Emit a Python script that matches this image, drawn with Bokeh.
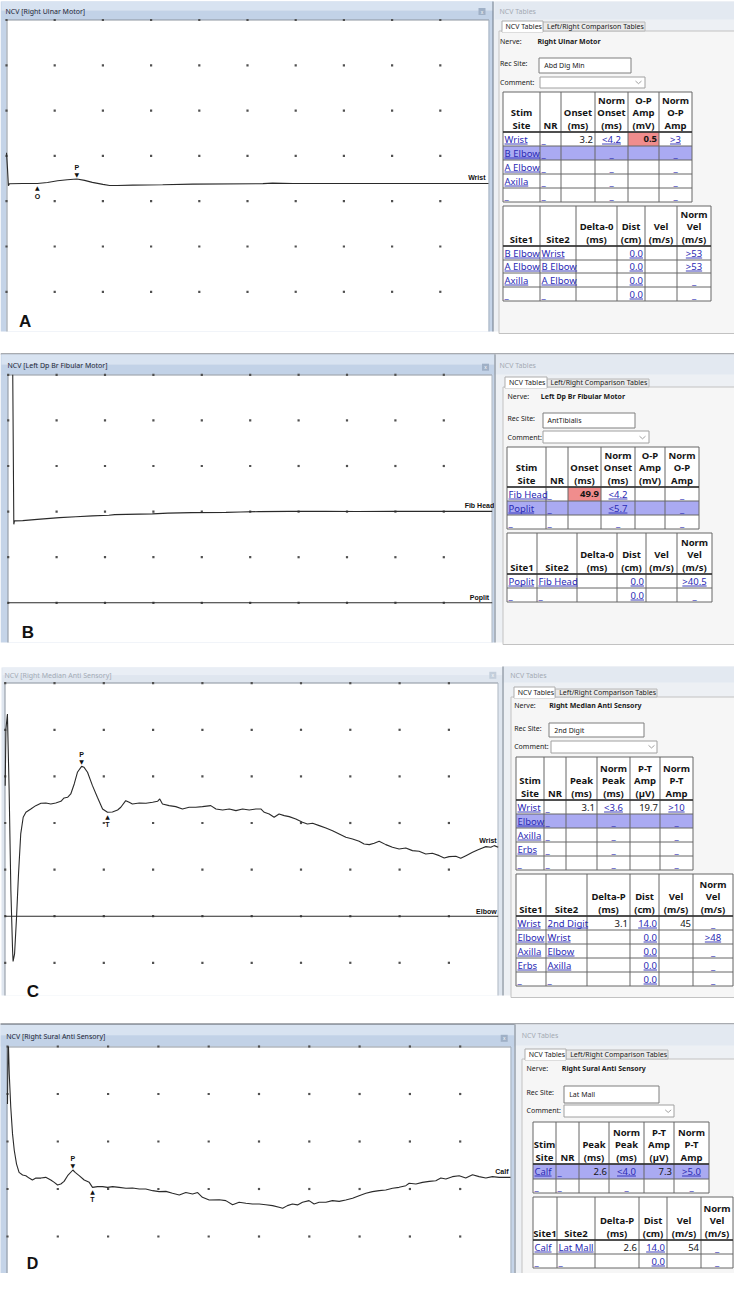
import numpy as np
from bokeh.plotting import figure
from bokeh.models import Range1d
from bokeh.core.properties import value
from bokeh.embed import file_html
from bokeh.resources import INLINE

# ===================== DATA =====================
# ---- A : Right Ulnar Motor (time ms, amplitude mV) ----
A_title = "NCV [Right Ulnar Motor]"
A_nerve = "Right Ulnar Motor"
A_rec_site = "Abd Dig Min"
A_wrist_t = [0.0, 0.1, 0.2, 0.3, 1.7, 3.2, 4.25, 5.3, 6.3, 7.3, 8.1, 8.9, 10.0, 10.7,
             11.5, 13.1, 16.2, 19.3, 26.6, 27.6, 29.7, 50.0]
A_wrist_v = [3.4, 1.7, -0.25, -0.03, 0.0, 0.0, 0.11, 0.30, 0.42, 0.5, 0.35, 0.13, -0.09, -0.22,
             -0.22, -0.18, -0.14, -0.07, -0.01, 0.04, 0.0, 0.0]
A_onset_ms = 3.2
A_peak_ms = 7.3
A_stim_header = ["Stim\nSite", "NR", "Onset\n(ms)", "Norm\nOnset\n(ms)", "O-P\nAmp\n(mV)", "Norm\nO-P\nAmp"]
A_stim_rows = [["Wrist", "_", "3.2", "<4.2", "0.5", ">3"],
               ["B Elbow", "_", "", "_", "", "_"],
               ["A Elbow", "_", "", "_", "", "_"],
               ["Axilla", "_", "", "_", "", "_"],
               ["_", "_", "", "_", "", "_"]]
A_seg_header = ["Site1", "Site2", "Delta-0\n(ms)", "Dist\n(cm)", "Vel\n(m/s)", "Norm\nVel\n(m/s)"]
A_seg_rows = [["B Elbow", "Wrist", "", "0.0", "", ">53"],
              ["A Elbow", "B Elbow", "", "0.0", "", ">53"],
              ["Axilla", "A Elbow", "", "0.0", "", "_"],
              ["_", "_", "", "0.0", "", "_"]]

# ---- B : Left Dp Br Fibular Motor (ms, mV) ----
B_title = "NCV [Left Dp Br Fibular Motor]"
B_nerve = "Left Dp Br Fibular Motor"
B_rec_site = "AntTibialis"
B_fib_t = [0.47, 0.58, 0.65, 1.5, 3.0, 5.3, 7.0, 8.7, 10.4, 11.0, 12.2, 14.9, 16.5, 19.0,
           22.5, 24.0, 25.9, 29.0, 32.8, 36.0, 39.7, 44.0, 50.0]
B_fib_v = [15.0, -1.39, -1.02, -0.99, -0.85, -0.66, -0.56, -0.47, -0.40, -0.33, -0.30, -0.25,
           -0.17, -0.11, -0.09, -0.04, 0.0, 0.02, 0.03, 0.01, 0.03, 0.02, 0.03]
B_poplit_t = [0.0, 50.0]
B_poplit_v = [0.0, 0.0]
B_stim_header = ["Stim\nSite", "NR", "Onset\n(ms)", "Norm\nOnset\n(ms)", "O-P\nAmp\n(mV)", "Norm\nO-P\nAmp"]
B_stim_rows = [["Fib Head", "_", "49.9", "<4.2", "", "_"],
               ["Poplit", "_", "", "<5.7", "", "_"],
               ["_", "_", "", "_", "", "_"]]
B_seg_header = ["Site1", "Site2", "Delta-0\n(ms)", "Dist\n(cm)", "Vel\n(m/s)", "Norm\nVel\n(m/s)"]
B_seg_rows = [["Poplit", "Fib Head", "", "0.0", "", ">40.5"],
              ["_", "_", "", "0.0", "", "_"]]

# ---- C : Right Median Anti Sensory (ms, uV) ----
C_title = "NCV [Right Median Anti Sensory]"
C_nerve = "Right Median Anti Sensory"
C_rec_site = "2nd Digit"
C_wrist_t = [0.0, 0.03, 0.09, 0.16, 0.23, 0.30, 0.32, 0.38, 0.46, 0.54, 0.63, 0.73, 0.84, 1.04,
             1.24, 1.45, 1.65, 1.85, 2.05, 2.26, 2.39, 2.53, 2.66, 2.80, 2.93, 3.1, 3.20, 3.34,
             3.54, 3.74, 3.95, 4.15, 4.35, 4.56, 4.69, 4.89, 5.03, 5.16, 5.44, 5.71, 5.98, 6.18,
             6.27, 6.38, 6.65, 6.92, 7.19, 7.46, 7.73, 8.0, 8.34, 8.55, 8.82, 9.09, 9.36, 9.63,
             9.90, 10.17, 10.37, 10.51, 10.71, 10.91, 11.11, 11.32, 11.52, 11.79, 12.06, 12.26,
             12.47, 12.74, 13.01, 13.28, 13.55, 13.82, 14.09, 14.36, 14.56, 14.77, 14.97, 15.17,
             15.44, 15.71, 15.98, 16.25, 16.52, 16.79, 17.06, 17.33, 17.61, 17.81, 18.01, 18.28,
             18.48, 18.69, 18.96, 19.16, 19.36, 19.50, 19.70, 19.84, 20.0]
C_wrist_v = [16.0, 40.4, 46.8, 13.9, -29.0, -54.8, -59.4, -56.2, -40.5, -21.9, -4.7, 2.45, 4.6,
             6.0, 7.45, 8.46, 8.6, 8.17, 8.6, 9.31, 10.74, 11.03, 12.46, 16.75, 21.76, 24.3, 23.9,
             21.76, 16.04, 11.03, 6.0, 4.6, 4.75, 5.6, 6.74, 9.6, 8.89, 8.17, 8.6, 8.46, 8.89,
             9.31, 10.32, 8.17, 7.45, 7.02, 6.02, 6.74, 6.74, 7.02, 7.45, 6.02, 5.59, 6.02, 5.31,
             6.02, 5.59, 6.02, 6.02, 4.6, 3.88, 2.45, 3.88, 3.16, 2.73, 1.73, 0.3, -0.41, -0.13,
             -1.13, -2.13, -3.28, -4.71, -6.14, -6.85, -7.85, -9.0, -9.28, -8.71, -7.85, -9.28,
             -10.43, -11.14, -10.71, -11.86, -12.15, -13.29, -13.01, -14.01, -15.01, -14.44,
             -14.29, -15.15, -14.01, -12.58, -11.57, -10.71, -10.14, -10.43, -9.71, -10.43]
C_elbow_t = [0.0, 20.0]
C_elbow_v = [0.0, 0.0]
C_peak_ms = 3.1
C_trough_ms = 4.15
C_stim_header = ["Stim\nSite", "NR", "Peak\n(ms)", "Norm\nPeak\n(ms)", "P-T\nAmp\n(µV)", "Norm\nP-T\nAmp"]
C_stim_rows = [["Wrist", "_", "3.1", "<3.6", "19.7", ">10"],
               ["Elbow", "_", "", "_", "", "_"],
               ["Axilla", "_", "", "_", "", "_"],
               ["Erbs", "_", "", "_", "", "_"],
               ["_", "_", "", "_", "", "_"]]
C_seg_header = ["Site1", "Site2", "Delta-P\n(ms)", "Dist\n(cm)", "Vel\n(m/s)", "Norm\nVel\n(m/s)"]
C_seg_rows = [["Wrist", "2nd Digit", "3.1", "14.0", "45", "_"],
              ["Elbow", "Wrist", "", "0.0", "", ">48"],
              ["Axilla", "Elbow", "", "0.0", "", "_"],
              ["Erbs", "Axilla", "", "0.0", "", "_"],
              ["_", "_", "", "0.0", "", "_"]]

# ---- D : Right Sural Anti Sensory (ms, uV) ----
D_title = "NCV [Right Sural Anti Sensory]"
D_nerve = "Right Sural Anti Sensory"
D_rec_site = "Lat Mall"
D_calf_t = [0.0, 0.02, 0.04, 0.07, 0.13, 0.20, 0.27, 0.36, 0.46, 0.60, 0.73, 0.86, 0.99, 1.13,
            1.33, 1.52, 1.72, 1.86, 1.99, 2.12, 2.25, 2.39, 2.6, 2.69, 2.85, 3.05, 3.25, 3.38,
            3.58, 3.78, 3.98, 4.18, 4.44, 4.71, 4.97, 5.24, 5.50, 5.77, 6.03, 6.30, 6.56, 6.83,
            7.09, 7.36, 7.56, 7.75, 8.02, 8.42, 8.68, 8.95, 9.21, 9.48, 9.74, 10.01, 10.27,
            10.54, 10.80, 10.94, 11.13, 11.33, 11.53, 11.73, 11.99, 12.19, 12.39, 12.66, 12.92,
            13.19, 13.45, 13.72, 13.98, 14.25, 14.51, 14.78, 15.04, 15.31, 15.57, 15.84, 15.97,
            16.24, 16.50, 16.77, 17.03, 17.23, 17.43, 17.69, 17.96, 18.22, 18.49, 18.75, 19.02,
            19.28, 19.55, 20.0]
D_calf_v = [35.8, 60.0, 59.7, 48.4, 34.4, 23.2, 16.2, 10.5, 7.0, 5.9, 5.6, 4.6, 3.8, 4.6, 4.6,
            4.9, 3.8, 2.8, 1.7, 2.1, 3.2, 5.6, 8.0, 7.0, 5.6, 3.8, 2.8, 0.7, 1.0, 1.0, 0.7, 1.0,
            0.7, 0.3, 0.4, 0.0, 0.0, -0.7, -1.1, -1.0, -1.8, -2.5, -1.5, -2.1, -1.5, -3.5, -4.6,
            -4.5, -4.9, -6.6, -5.6, -6.0, -6.3, -6.3, -6.6, -7.0, -7.7, -8.1, -7.0, -6.3, -6.7,
            -5.6, -4.9, -6.3, -5.6, -5.6, -4.9, -5.2, -4.6, -3.9, -2.8, -1.8, -1.1, -0.7, -0.4,
            0.3, 0.7, 1.4, 2.4, 2.1, 2.8, 3.2, 3.5, 4.6, 4.2, 5.2, 5.6, 4.6, 6.0, 5.2, 4.6, 5.2,
            4.9, 4.9]
D_peak_ms = 2.6
D_trough_ms = 3.38
D_stim_header = ["Stim\nSite", "NR", "Peak\n(ms)", "Norm\nPeak\n(ms)", "P-T\nAmp\n(µV)", "Norm\nP-T\nAmp"]
D_stim_rows = [["Calf", "_", "2.6", "<4.0", "7.3", ">5.0"],
               ["_", "_", "", "_", "", "_"]]
D_seg_header = ["Site1", "Site2", "Delta-P\n(ms)", "Dist\n(cm)", "Vel\n(m/s)", "Norm\nVel\n(m/s)"]
D_seg_rows = [["Calf", "Lat Mall", "2.6", "14.0", "54", "_"],
              ["_", "_", "", "0.0", "", "_"]]

# ===================== CANVAS =====================
X0, X1, Y0, Y1 = 8, 742, 8, 1281
p = figure(width=X1 - X0, height=Y1 - Y0, x_range=Range1d(X0, X1), y_range=Range1d(Y1, Y0),
           x_axis_type=None, y_axis_type=None, output_backend="svg", toolbar_location=None,
           min_border=0, outline_line_color=None, background_fill_color="white",
           border_fill_color="white")
if p.title is not None:
    p.title.visible = False

UI = "Noto Sans"
ARIAL = "Liberation Sans"
SYM = "DejaVu Sans"
LINK = "#2a2ab4"

CW = {' ': 260, '_': 460, '<': 572, '>': 572, '.': 268, '/': 372, 'A': 639, 'B': 648, 'C': 632,
      'D': 729, 'E': 556, 'F': 516, 'H': 738, 'L': 527, 'M': 907, 'P': 603, 'W': 925, 'S': 549,
      'a': 561, 'b': 615, 'd': 615, 'e': 564, 'f': 344, 'g': 615, 'h': 618, 'i': 258, 'l': 258,
      'm': 937, 'n': 618, 'o': 605, 'p': 615, 'r': 408, 's': 479, 't': 361, 'x': 528, 'w': 813}


def tw(s, size):
    return sum(CW.get(ch, 572) for ch in s) / 1000.0 * size


def txt(xs, ys, texts, size=7, color="#1b2230", bold=False, align="left", baseline="middle",
        font=UI, xr="default", yr="default", dx=0, dy=0):
    p.text(x=list(xs), y=list(ys), text=list(texts), text_font=value(font),
           text_font_size=f"{size}px", text_color=color,
           text_font_style="bold" if bold else "normal", text_align=align,
           text_baseline=baseline, x_range_name=xr, y_range_name=yr,
           x_offset=dx, y_offset=dy)


def box(x0, x1, y0, y1, fill, line=None, lw=1):
    p.quad(left=[x0], right=[x1], top=[y0], bottom=[y1], fill_color=fill,
           line_color=line, line_width=lw)


def seg(x0, y0, x1, y1, color, w=1):
    p.segment(x0=[x0], y0=[y0], x1=[x1], y1=[y1], line_color=color, line_width=w)


def sn(v):
    return round(v - 0.5) + 0.5


# ---------- left (waveform) window ----------
def left_window(L, title, active=True):
    x0, x1, y0, y1 = L["x0"], L["x1"], L["y0"], L["y1"]
    fx0, fx1, fy0 = L["fx0"], L["fx1"], L["fy0"]
    if active:
        bc, t1, t2, tcol = "#c5d4e8", "#d8e3f1", "#c2d2e7", "#1d2636"
    else:
        bc, t1, t2, tcol = "#dfe6ef", "#e9eef5", "#dfe6ef", "#a3abb6"
    box(x0, x1, y0, y1, bc)
    mid = (y0 + fy0) / 2
    box(x0 + 1, x1, y0, mid, t1)
    box(x0 + 1, x1, mid, fy0, t2)
    box(fx0, fx1, fy0, y1, "white")
    seg(sn(fx0), sn(fy0), sn(fx1), sn(fy0), "#8d959f")
    seg(sn(fx0), sn(fy0), sn(fx0), y1, "#8d959f")
    seg(sn(fx1), sn(fy0), sn(fx1), y1, "#aab4c0")
    txt([L["tx"]], [(y0 + fy0) / 2 + 0.5], [title], size=7, color=tcol)
    cx, cy = L["close"]
    box(cx - 3.5, cx + 3.5, cy - 3.5, cy + 3.5, "#9fb0c6" if active else "#c3cedb")
    txt([cx], [cy], ["x"], size=5, color="white", align="center", font=ARIAL)


def scope(name, L, ms_div, sens):
    fx0, fx1, fy0, dyp, y1 = L["fx0"], L["fx1"], L["fy0"], L["dy"], L["y1"]
    k = ms_div * 10.0 / (fx1 - fx0)
    p.extra_x_ranges[name] = Range1d(start=(X0 - fx0) * k, end=(X1 - fx0) * k)
    s = sens / dyp
    p.extra_y_ranges[name] = Range1d(start=-(Y1 - fy0) * s, end=-(Y0 - fy0) * s)
    nrow = int((y1 - fy0 - 2) // dyp) + 1
    gx = [i * ms_div for i in range(10) for j in range(nrow)]
    gy = [-j * sens for i in range(10) for j in range(nrow)]
    p.scatter(gx, gy, marker="square", size=2.2, fill_color="#505050", line_color=None,
              x_range_name=name, y_range_name=name)


def trace(name, t, v, row, sens, label, ldx, ldy):
    yy = [val - row * sens for val in v]
    p.line(t, yy, line_color="#2a2a2a", line_width=1.1, x_range_name=name, y_range_name=name)
    txt([t[-1]], [yy[-1]], [label], size=7, bold=True, align="right", baseline="middle",
        font=ARIAL, color="#111", xr=name, yr=name, dx=ldx, dy=ldy)


def mark(name, t, v, row, sens, when, letter, above):
    y = float(np.interp(when, t, v)) - row * sens
    if above:
        txt([when], [y], ["▼"], size=6, align="center", baseline="middle", font=SYM,
            color="#111", xr=name, yr=name, dy=-4.5)
        txt([when], [y], [letter], size=7, bold=True, align="center", baseline="middle",
            font=ARIAL, color="#111", xr=name, yr=name, dy=-12)
    else:
        txt([when], [y], ["▲"], size=6, align="center", baseline="middle", font=SYM,
            color="#111", xr=name, yr=name, dy=4)
        txt([when], [y], [letter], size=7, bold=True, align="center", baseline="middle",
            font=ARIAL, color="#111", xr=name, yr=name, dy=12.5)


# ---------- tables window ----------
STIM_ALIGN = ["left", "left", "right", "center", "right", "center"]
STIM_LINK = [True, True, False, True, False, True]
SEG_ALIGN = ["left", "left", "right", "right", "right", "center"]
SEG_LINK = [True, True, False, True, False, True]


def draw_table(cols, top, hdr, rh, header, rows, aligns, links, hl=None, red=None):
    n = len(rows)
    cols = [sn(c) for c in cols]
    top = sn(top)
    ys = [sn(top + hdr + k * rh) for k in range(n + 1)]
    bot = ys[-1]
    box(cols[0], cols[-1], top, bot, "white")
    if hl is not None:
        box(cols[0], cols[-1], ys[hl], ys[hl + 1], "#aaaaf2")
    if red is not None:
        r, c = red
        box(cols[c], cols[c + 1], ys[r], ys[r + 1], "#f08d8d")
    xl, yl = [], []
    for c in cols:
        xl.append([c, c]); yl.append([top, bot])
    for y in [top] + ys:
        xl.append([cols[0], cols[-1]]); yl.append([y, y])
    p.multi_line(xl, yl, line_color="#666666", line_width=1)
    seg(cols[0], ys[0], cols[-1], ys[0], "#2e2e2e", 1.6)
    # header: each line placed separately, bottom-aligned
    hx, hy, ht = [], [], []
    for i, h in enumerate(header):
        lines = h.split("\n")
        m = len(lines)
        for j, ln in enumerate(lines):
            hx.append((cols[i] + cols[i + 1]) / 2)
            hy.append(ys[0] - 6.5 - (m - 1 - j) * 12.6)
            ht.append(ln)
    txt(hx, hy, ht, size=9.5, bold=True, align="center", baseline="middle", color="#151515")
    groups = {}
    ux0, ux1, uy, uc = [], [], [], []
    for r, row in enumerate(rows):
        yc = (ys[r] + ys[r + 1]) / 2 + 0.3
        for c, s in enumerate(row):
            if not s:
                continue
            a = aligns[c]
            if a == "left":
                x = cols[c] + 1.5
            elif a == "right":
                x = cols[c + 1] - 2
            else:
                x = (cols[c] + cols[c + 1]) / 2
            col = LINK if links[c] else "#151515"
            b = red is not None and (r, c) == tuple(red)
            g = groups.setdefault((a, col, b), ([], [], []))
            g[0].append(x); g[1].append(yc); g[2].append(s)
            if links[c] and s != "_":
                w = tw(s, 9.5)
                if a == "left":
                    a0 = x
                elif a == "right":
                    a0 = x - w
                else:
                    a0 = x - w / 2
                ux0.append(a0); ux1.append(a0 + w); uy.append(sn(yc + 4.5)); uc.append(col)
    for (a, col, b), (xs, yv, ts) in groups.items():
        txt(xs, yv, ts, size=9.5, bold=b, align=a, color=col)
    if ux0:
        p.segment(x0=ux0, y0=uy, x1=ux1, y1=uy, line_color=uc, line_width=0.9)


def table_window(R, nerve, rec_site):
    wx, y0, y1 = R["wx"], R["y0"], R["y1"]
    box(wx, X1, y0, y1, "#edf0f4")
    box(wx + 1, X1, y0, R["ty1"], "#e3e9f1")
    seg(sn(wx), y0, sn(wx), y1, "#6f7a88")
    txt([R["title_x"]], [(y0 + R["ty1"]) / 2 + 0.5], ["NCV Tables"], size=7, color="#a3aab3")
    tx, ty0, ty1 = R["tab_x"], R["tab_y0"], R["tab_y1"]
    box(sn(tx - 3), X1 + 2, sn(ty1), y1 + 2, "#f6f6f6", line="#c2c2c2")
    box(sn(tx + 41), sn(tx + 143), sn(ty0 + 1), sn(ty1), "#e9e9e9", line="#b8b8b8")
    box(sn(tx), sn(tx + 41), sn(ty0), sn(ty1) + 1, "white", line="#adadad")
    seg(sn(tx) + 0.5, sn(ty1) + 0.5, sn(tx + 41) - 0.5, sn(ty1) + 0.5, "white", 1.5)
    txt([tx + 3.5, tx + 45], [(ty0 + ty1) / 2 + 0.5] * 2,
        ["NCV Tables", "Left/Right Comparison Tables"], size=7, color="#1a1a1a")
    cx = R["cx"]
    txt([cx], [R["nerve_y"]], ["Nerve:"], size=7, color="#1a1a1a")
    txt([R["name_x"]], [R["nerve_y"]], [nerve], size=7, bold=True, color="#1a1a1a")
    txt([cx], [R["rec_y"]], ["Rec Site:"], size=7, color="#1a1a1a")
    bx = R["box"]
    box(sn(bx[0]), sn(bx[1]), sn(bx[2]), sn(bx[3]), "white", line="#7e7e7e")
    txt([bx[0] + 5], [(bx[2] + bx[3]) / 2], [rec_site], size=7, color="#1a1a1a")
    txt([cx], [R["com_y"]], ["Comment:"], size=7, color="#1a1a1a")
    cb = R["combo"]
    box(sn(cb[0]), sn(cb[1]), sn(cb[2]), sn(cb[3]), "white", line="#a0a0a0")
    mx, my = cb[1] - 6, (cb[2] + cb[3]) / 2
    p.line([mx - 3, mx, mx + 3], [my - 1.3, my + 1.3, my - 1.3], line_color="#8a8a8a", line_width=0.8)


# ===================== LAYOUT =====================
LA = dict(x0=8, x1=501, y0=9, y1=339, fx0=14, fx1=496, fy0=27.5, dy=45.3, tx=13,
          close=(489.5, 19))
RA = dict(wx=501, y0=9, y1=339, ty1=27, title_x=507, tab_x=509.5, tab_y0=28.5, tab_y1=39,
          cx=507.5, nerve_y=48.7, name_x=545, rec_y=70.7, box=(546.7, 638.3, 65.3, 80),
          com_y=90, combo=(547.7, 652, 84, 95.7))
LB = dict(x0=8, x1=502, y0=362, y1=650, fx0=15.7, fx1=499.7, fy0=382.3, dy=45.6, tx=15,
          close=(493, 374.7))
RB = dict(wx=502, y0=362, y1=650, ty1=382, title_x=507, tab_x=513, tab_y0=385, tab_y1=394.5,
          cx=515, nerve_y=403.7, name_x=548.3, rec_y=425.7, box=(550, 642.7, 420.3, 435.7),
          com_y=445, combo=(551, 656, 439, 451))
LC = dict(x0=9, x1=510, y0=675, y1=1003, fx0=12.7, fx1=505.7, fy0=690.7, dy=46.6, tx=12,
          close=(500.3, 682.8))
RC = dict(wx=510, y0=674, y1=1003, ty1=690, title_x=517.7, tab_x=521.7, tab_y0=695,
          tab_y1=704.3, cx=521.7, nerve_y=712.7, name_x=556.7, rec_y=735.7,
          box=(556.7, 651.7, 730.3, 745), com_y=754.3, combo=(558.3, 665, 748.3, 760))
LD = dict(x0=7, x1=522, y0=1032, y1=1281, fx0=15, fx1=518, fy0=1054, dy=47.5, tx=13.7,
          close=(511.7, 1045.8))
RD = dict(wx=522, y0=1032, y1=1281, ty1=1053, title_x=529.3, tab_x=532.7, tab_y0=1056.7,
          tab_y1=1066.7, cx=534, nerve_y=1076, name_x=569.3, rec_y=1100,
          box=(571.7, 666.7, 1093.7, 1110), com_y=1117.7, combo=(571.7, 681.7, 1112.3, 1125))

# ---------------- Panel A ----------------
left_window(LA, A_title, active=True)
scope("a", LA, 5.0, 5.0)
trace("a", A_wrist_t, A_wrist_v, 3.61, 5.0, "Wrist", -3, -6)
mark("a", A_wrist_t, A_wrist_v, 3.61, 5.0, A_onset_ms, "O", above=False)
mark("a", A_wrist_t, A_wrist_v, 3.61, 5.0, A_peak_ms, "P", above=True)
txt([26.5], [328.5], ["A"], size=17, bold=True, font=ARIAL, baseline="alphabetic", color="#111")
table_window(RA, A_nerve, A_rec_site)
draw_table([511, 547.7, 568.3, 602.3, 635.7, 666.7, 699.3], 99.3, 40, 14, A_stim_header,
           A_stim_rows, STIM_ALIGN, STIM_LINK, hl=1, red=(0, 4))
draw_table([511, 547.7, 583.3, 624.3, 652.7, 684.3, 718.3], 213.3, 40, 13.75, A_seg_header,
           A_seg_rows, SEG_ALIGN, SEG_LINK)

# ---------------- Panel B ----------------
seg(8, 361.5, X1, 361.5, "#505761")
left_window(LB, B_title, active=True)
scope("b", LB, 5.0, 5.0)
trace("b", B_fib_t, B_fib_v, 3, 5.0, "Fib Head", 2, -6)
trace("b", B_poplit_t, B_poplit_v, 5, 5.0, "Poplit", -3, -5.5)
txt([29.3], [640], ["B"], size=17, bold=True, font=ARIAL, baseline="alphabetic", color="#111")
table_window(RB, B_nerve, B_rec_site)
draw_table([514.7, 553.3, 575.3, 608.7, 642.7, 672.3, 706.7], 455, 40, 13.9, B_stim_header,
           B_stim_rows, STIM_ALIGN, STIM_LINK, hl=1, red=(0, 2))
draw_table([514.7, 545, 584.3, 625, 653.3, 685, 719.3], 541, 40.7, 14.3, B_seg_header,
           B_seg_rows, SEG_ALIGN, SEG_LINK)

# ---------------- Panel C ----------------
left_window(LC, C_title, active=False)
scope("c", LC, 2.0, 20.0)
trace("c", C_wrist_t, C_wrist_v, 3, 20.0, "Wrist", -1.5, -6.5)
trace("c", C_elbow_t, C_elbow_v, 5, 20.0, "Elbow", -1.5, -5)
mark("c", C_wrist_t, C_wrist_v, 3, 20.0, C_peak_ms, "P", above=True)
mark("c", C_wrist_t, C_wrist_v, 3, 20.0, C_trough_ms, "T", above=False)
txt([34.3], [999.3], ["C"], size=17, bold=True, font=ARIAL, baseline="alphabetic", color="#111")
table_window(RC, C_nerve, C_rec_site)
draw_table([523.3, 551.7, 573.3, 605, 637.3, 667.3, 701], 764.3, 43.4, 13.9, C_stim_header,
           C_stim_rows, STIM_ALIGN, STIM_LINK, hl=1)
draw_table([523.3, 553.3, 595, 637.3, 666, 700, 741], 881.7, 41.6, 14, C_seg_header,
           C_seg_rows, SEG_ALIGN, SEG_LINK)

# ---------------- Panel D ----------------
left_window(LD, D_title, active=True)
seg(6, 1031.5, X1, 1031.5, "#505761")
seg(6.5, 1031.5, 6.5, Y1, "#505761")
scope("d", LD, 2.0, 20.0)
trace("d", D_calf_t, D_calf_v, 3, 20.0, "Calf", -2, -6)
mark("d", D_calf_t, D_calf_v, 3, 20.0, D_peak_ms, "P", above=True)
mark("d", D_calf_t, D_calf_v, 3, 20.0, D_trough_ms, "T", above=False)
txt([34.3], [1271], ["D"], size=16, bold=True, font=ARIAL, baseline="alphabetic", color="#111")
table_window(RD, D_nerve, D_rec_site)
draw_table([540, 565, 602.7, 646, 675, 708.3, 740.5], 1205, 42.7, 14.2, D_seg_header,
           D_seg_rows, SEG_ALIGN, SEG_LINK)
draw_table([540, 563.3, 586, 616.7, 651.7, 681.7, 716.7], 1129.3, 42.4, 14.2, D_stim_header,
           D_stim_rows, STIM_ALIGN, STIM_LINK, hl=0)

open("out.html", "w").write(file_html(p, INLINE))
